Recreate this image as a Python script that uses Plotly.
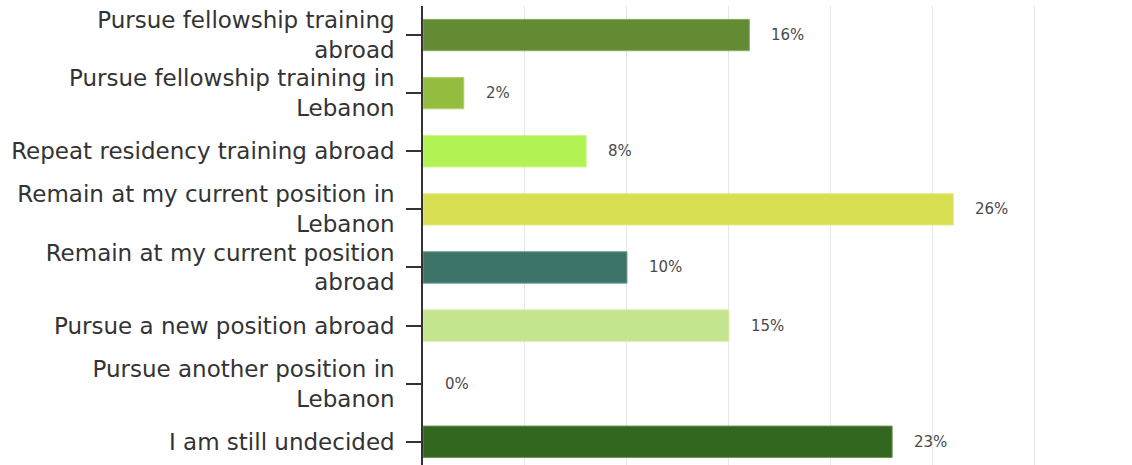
import plotly.graph_objects as go

# Survey responses: planned next step after training
categories = [
    "Pursue fellowship training<br>abroad",
    "Pursue fellowship training in<br>Lebanon",
    "Repeat residency training abroad",
    "Remain at my current position in<br>Lebanon",
    "Remain at my current position<br>abroad",
    "Pursue a new position abroad",
    "Pursue another position in<br>Lebanon",
    "I am still undecided",
]
percentages = [16, 2, 8, 26, 10, 15, 0, 23]
bar_colors = [
    "#628B33", "#95BD40", "#B2F252", "#D9DF52",
    "#3C746A", "#C4E48E", "#9BC46A", "#33671F",
]
edge_colors = [
    "#8BAE65", "#B3D27A", "#CBF58C", "#E6EA8A",
    "#6E9A92", "#D8EDB6", "#BBD89A", "#6A9256",
]

fig = go.Figure(
    go.Bar(
        x=percentages,
        y=categories,
        orientation="h",
        marker=dict(
            color=bar_colors,
            line=dict(color=edge_colors, width=[0 if v == 0 else 1 for v in percentages]),
        ),
        hoverinfo="skip",
    )
)

# Percentage labels to the right of each bar
for cat, val in zip(categories, percentages):
    fig.add_annotation(
        x=val, y=cat, text=f"{val}%", showarrow=False,
        xanchor="left", yanchor="middle", xshift=20,
        font=dict(family="DejaVu Sans, sans-serif", size=15, color="#4A4A4A"),
    )

fig.update_layout(
    width=1132, height=465,
    margin=dict(l=423, r=0, t=6, b=0),
    paper_bgcolor="white", plot_bgcolor="white",
    bargap=0.46,
    showlegend=False,
    font=dict(family="DejaVu Sans, sans-serif", color="#333333"),
)
fig.update_xaxes(
    range=[0, 34.76], dtick=5, showgrid=True, gridcolor="#E6E6E6", gridwidth=1,
    showticklabels=False, zeroline=False, showline=False, ticks="",
)
fig.update_yaxes(
    categoryorder="array", categoryarray=categories,
    range=[7.4, -0.5],
    showline=True, linecolor="#333333", linewidth=1.5,
    ticks="outside", ticklen=15, tickcolor="#333333", tickwidth=1.5,
    ticklabelstandoff=7,
    tickfont=dict(family="DejaVu Sans, sans-serif", size=23, color="#333333"),
    showgrid=False,
)

fig.write_html("out.html")
